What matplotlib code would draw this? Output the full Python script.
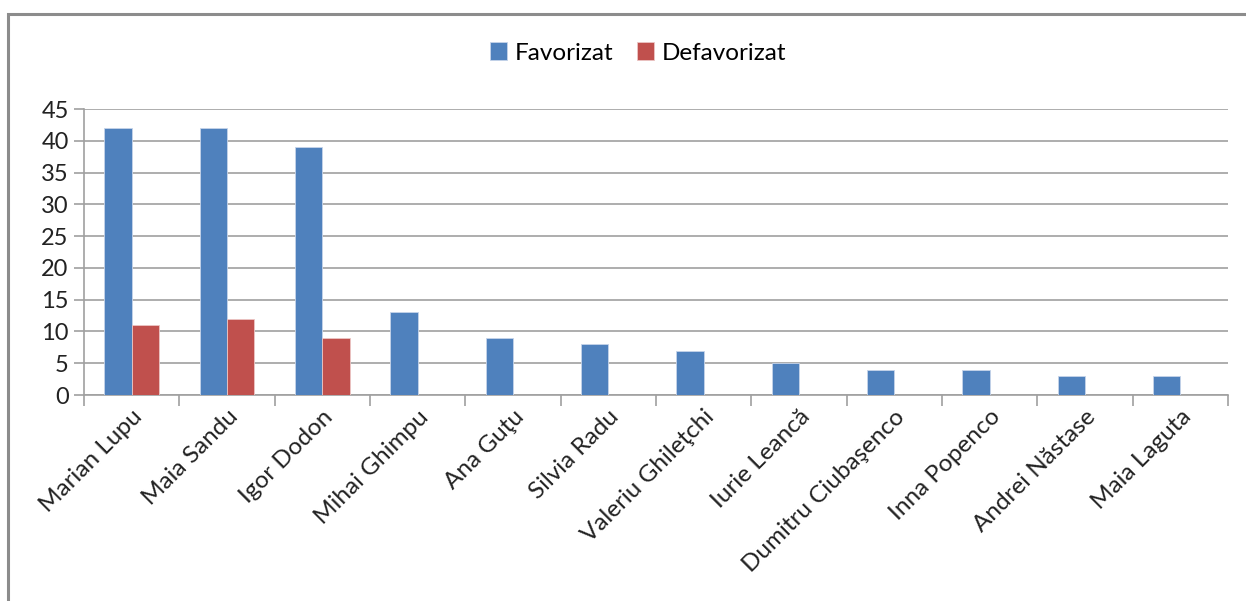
import matplotlib
matplotlib.use("Agg")
import matplotlib.pyplot as plt
import numpy as np
from matplotlib.patches import Rectangle

# data
candidates = ["Marian Lupu", "Maia Sandu", "Igor Dodon", "Mihai Ghimpu", "Ana Guţu",
              "Silvia Radu", "Valeriu Ghileţchi", "Iurie Leancă", "Dumitru Ciubaşenco",
              "Inna Popenco", "Andrei Năstase", "Maia Laguta"]
favorizat = [42, 42, 39, 13, 9, 8, 7, 5, 4, 4, 3, 3]
defavorizat = [11, 12, 9, 0, 0, 0, 0, 0, 0, 0, 0, 0]
yticks = list(range(0, 50, 5))

plt.rcParams["font.family"] = ["Lato", "DejaVu Sans"]

W, H = 1246, 601
fig = plt.figure(figsize=(W / 100, H / 100), dpi=100)
fig.patch.set_facecolor("white")

# outer chart border (left + top visible)
fig.patches.append(Rectangle((8 / W, -0.2), 1.5, 1 - 14 / H + 0.2,
                             transform=fig.transFigure, fill=False,
                             edgecolor="#8c8c8c", linewidth=2.2, zorder=0))

ax = fig.add_axes([84 / W, 1 - 395 / H, (1228 - 84) / W, (395 - 109) / H])

x = np.arange(len(candidates))
bw = 0.285
ax.bar(x - bw / 2, favorizat, bw, color="#4F81BD", edgecolor="#c6d4ea",
       linewidth=0.6, label="Favorizat", zorder=3)
ax.bar(x + bw / 2, defavorizat, bw, color="#C0504D", edgecolor="#ebc6c5",
       linewidth=0.6, label="Defavorizat", zorder=3)

ax.set_xlim(-0.5, len(candidates) - 0.5)
ax.set_ylim(0, 45)
ax.set_yticks(yticks)
ax.yaxis.grid(True, color="#a0a0a0", linewidth=1.2, zorder=0)
ax.tick_params(axis="y", labelsize=17, length=7, width=1.2, color="#a0a0a0",
               labelcolor="#222222", pad=4)

ax.set_xticks(np.arange(-0.5, len(candidates), 1), minor=False)
ax.set_xticklabels([])
ax.set_xticks(x, minor=True)
ax.set_xticklabels(candidates, minor=True, rotation=45, ha="right",
                   rotation_mode="anchor", fontsize=17.5, color="#222222")
ax.tick_params(axis="x", which="major", length=8, width=1.2, color="#a0a0a0")
ax.tick_params(axis="x", which="minor", length=0, pad=8)

for s in ["top", "right"]:
    ax.spines[s].set_visible(False)
for s in ["left", "bottom"]:
    ax.spines[s].set_color("#a0a0a0")
    ax.spines[s].set_linewidth(1.2)

fig.legend(loc="center", bbox_to_anchor=(638 / W, 1 - 53 / H), ncol=2,
           frameon=False, fontsize=17.5, handlelength=0.7, handleheight=0.7,
           handletextpad=0.3, columnspacing=1.0)

fig.savefig("out.png", dpi=100)
